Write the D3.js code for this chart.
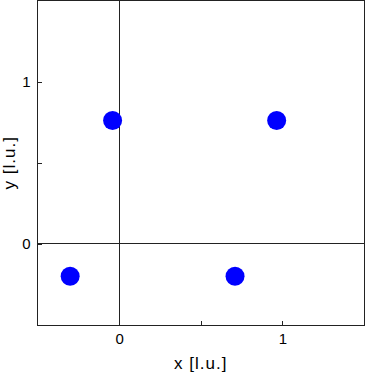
<!DOCTYPE html>
<html lang="en">
  <head>
    <meta charset="utf-8" />
    <title>Points</title>
    <style>
      body { margin: 0; background: #fff; }
      #vis text { font-family: "Liberation Sans", Arial, sans-serif; fill: #000; }
      #vis .domain { display: none; }
      #vis .tick line { stroke: #222; stroke-width: 1px; }
    </style>
  </head>
  <body>
    <div id="vis"></div>
    <script src="https://d3js.org/d3.v7.min.js"></script>
    <script>
      const xs = [-0.3, -0.04, 0.71, 0.965];
      const ys = [-0.2, 0.76, -0.2, 0.76];
      const tickVals = [0, 0.5, 1];
      const tickLabels = ["0", "", "1"];
      const xDomain = [-0.5, 1.5];
      const yDomain = [-0.5, 1.5];

      const W = 366, H = 374;
      const mLeft = 37.5, mRight = 364, mTop = 0.5, mBottom = 325;

      const x = d3.scaleLinear().domain(xDomain).range([mLeft, mRight]);
      const y = d3.scaleLinear().domain(yDomain).range([mBottom, mTop]);

      const svg = d3.select("#vis").append("svg").attr("width", W).attr("height", H);

      // zero lines
      svg.append("line").attr("x1", x(0)).attr("x2", x(0)).attr("y1", mTop).attr("y2", mBottom)
        .attr("stroke", "#222").attr("stroke-width", 1).attr("shape-rendering", "crispEdges");
      svg.append("line").attr("x1", mLeft).attr("x2", mRight).attr("y1", y(0)).attr("y2", y(0))
        .attr("stroke", "#222").attr("stroke-width", 1).attr("shape-rendering", "crispEdges");

      const fmt = d => tickLabels[tickVals.indexOf(d)];

      const gx = svg.append("g").attr("transform", `translate(0,${mBottom})`)
        .call(d3.axisBottom(x).tickValues(tickVals).tickFormat(fmt).tickSizeInner(-4).tickSizeOuter(0).tickPadding(8));
      gx.selectAll("text").attr("font-size", 15).attr("dy", "0.71em");
      gx.selectAll(".tick line").attr("shape-rendering", "crispEdges");

      const gy = svg.append("g").attr("transform", `translate(${mLeft},0)`)
        .call(d3.axisLeft(y).tickValues(tickVals).tickFormat(fmt).tickSizeInner(-4).tickSizeOuter(0).tickPadding(7));
      gy.selectAll("text").attr("font-size", 15);
      gy.selectAll(".tick line").attr("shape-rendering", "crispEdges");

      // frame
      svg.append("rect").attr("x", mLeft).attr("y", mTop)
        .attr("width", mRight - mLeft).attr("height", mBottom - mTop)
        .attr("fill", "none").attr("stroke", "#222").attr("stroke-width", 1)
        .attr("shape-rendering", "crispEdges");

      // points
      svg.append("g").selectAll("circle").data(xs).join("circle")
        .attr("cx", d => x(d))
        .attr("cy", (d, i) => y(ys[i]))
        .attr("r", 9.5)
        .attr("fill", "#0000ff");

      // axis labels
      svg.append("text").attr("x", (mLeft + mRight) / 2).attr("y", 369)
        .attr("text-anchor", "middle").attr("font-size", 17).attr("letter-spacing", 1)
        .text("x [l.u.]");
      svg.append("text").attr("transform", `translate(15,${(mTop + mBottom) / 2}) rotate(-90)`)
        .attr("text-anchor", "middle").attr("font-size", 17).attr("letter-spacing", 1)
        .text("y [l.u.]");
    </script>
  </body>
</html>
